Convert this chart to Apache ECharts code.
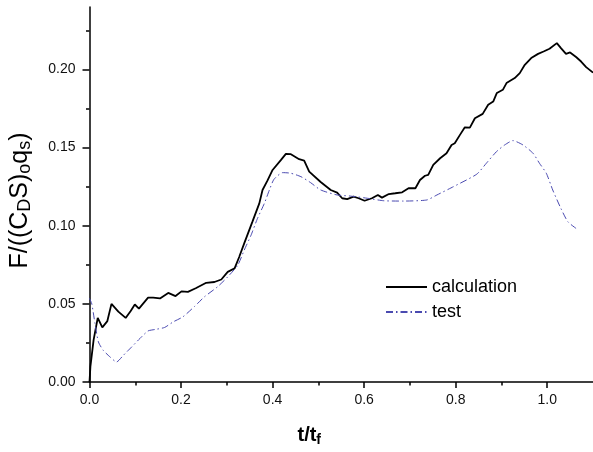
<!DOCTYPE html>
<html>
<head>
<meta charset="utf-8">
<script src="https://cdn.jsdelivr.net/npm/echarts@6/dist/echarts.min.js"></script>
<style>html,body{margin:0;padding:0;background:#fff}#c{width:593px;height:452px}</style>
</head>
<body>
<div id="c"></div>
<script>
var calcT = [0, 0.002, 0.009, 0.018, 0.028, 0.039, 0.048, 0.063, 0.079, 0.090, 0.099, 0.108, 0.128, 0.139, 0.154, 0.172, 0.188, 0.201, 0.215, 0.232, 0.255, 0.273, 0.288, 0.302, 0.317, 0.327, 0.338, 0.356, 0.371, 0.378, 0.389, 0.400, 0.418, 0.429, 0.440, 0.458, 0.469, 0.480, 0.505, 0.527, 0.541, 0.552, 0.563, 0.577, 0.588, 0.601, 0.617, 0.630, 0.639, 0.654, 0.668, 0.683, 0.697, 0.712, 0.722, 0.733, 0.740, 0.751, 0.766, 0.780, 0.791, 0.798, 0.809, 0.820, 0.831, 0.842, 0.859, 0.871, 0.882, 0.890, 0.903, 0.911, 0.929, 0.940, 0.951, 0.965, 0.980, 0.992, 1.005, 1.021, 1.030, 1.041, 1.050, 1.063, 1.074, 1.085, 1.100];
var calcV = [0.000, 0.010, 0.027, 0.041, 0.035, 0.039, 0.050, 0.045, 0.041, 0.0455, 0.0496, 0.047, 0.054, 0.054, 0.0535, 0.057, 0.055, 0.058, 0.0577, 0.060, 0.0635, 0.064, 0.0656, 0.0705, 0.0727, 0.080, 0.0887, 0.1026, 0.1143, 0.1229, 0.129, 0.1357, 0.142, 0.146, 0.1458, 0.1426, 0.1417, 0.1346, 0.128, 0.1229, 0.1212, 0.1176, 0.1171, 0.1186, 0.1176, 0.116, 0.1176, 0.1197, 0.118, 0.1203, 0.1208, 0.1214, 0.124, 0.124, 0.1293, 0.132, 0.1325, 0.139, 0.1432, 0.1464, 0.1517, 0.1528, 0.158, 0.163, 0.1628, 0.1688, 0.1716, 0.1774, 0.1795, 0.185, 0.187, 0.1913, 0.1945, 0.1977, 0.203, 0.2073, 0.21, 0.2115, 0.2133, 0.2169, 0.2137, 0.21, 0.2109, 0.208, 0.2051, 0.2015, 0.198];
var testT = [0, 0.005, 0.012, 0.0195, 0.030, 0.045, 0.059, 0.074, 0.092, 0.110, 0.128, 0.143, 0.164, 0.183, 0.204, 0.230, 0.251, 0.280, 0.302, 0.324, 0.338, 0.353, 0.367, 0.382, 0.393, 0.403, 0.422, 0.440, 0.462, 0.483, 0.505, 0.541, 0.570, 0.607, 0.643, 0.686, 0.737, 0.759, 0.795, 0.846, 0.867, 0.889, 0.907, 0.925, 0.947, 0.969, 0.983, 0.998, 1.012, 1.030, 1.045, 1.063];
var testV = [0.0535, 0.050, 0.0374, 0.0256, 0.0203, 0.016, 0.0128, 0.0171, 0.0224, 0.0278, 0.0327, 0.0336, 0.0349, 0.0385, 0.0417, 0.0485, 0.0545, 0.061, 0.0673, 0.0748, 0.0844, 0.094, 0.1047, 0.1143, 0.1229, 0.1297, 0.134, 0.1336, 0.1314, 0.1276, 0.1229, 0.1197, 0.119, 0.1176, 0.116, 0.1158, 0.1165, 0.1197, 0.125, 0.133, 0.140, 0.1474, 0.1517, 0.1545, 0.1517, 0.1464, 0.140, 0.1336, 0.1229, 0.111, 0.1026, 0.0983];
var xMajorTicks = [0, 0.2, 0.4, 0.6, 0.8, 1.0];
var xMinorTicks = [0.1, 0.3, 0.5, 0.7, 0.9];
var yMajorTicks = [0, 0.05, 0.10, 0.15, 0.20];
var yMinorTicks = [0.025, 0.075, 0.125, 0.175, 0.225];
var seriesNames = ['calculation', 'test'];

function zip(a, b) { return a.map(function (t, i) { return [t, b[i]]; }); }

var chart = echarts.init(document.getElementById('c'), null, {renderer: 'canvas'});
var font = 'Arial, "Liberation Sans", sans-serif';
var axisLine = {show: true, lineStyle: {color: '#000', width: 1.5}};
chart.setOption({
  animation: false,
  backgroundColor: '#fff',
  grid: {left: 88, top: 7, width: 506, height: 375, containLabel: false},
  legend: {
    orient: 'vertical', left: 380, top: 273, itemWidth: 41, itemHeight: 14, itemGap: 7,
    itemStyle: {opacity: 0},
    textStyle: {fontFamily: font, fontSize: 18, color: '#000'},
    data: seriesNames
  },
  xAxis: [{
    type: 'value', min: 0, max: 1.1, interval: 0.2,
    axisLine: axisLine,
    axisTick: {show: true, inside: false, length: 6, customValues: xMajorTicks, lineStyle: {color: '#000', width: 1.5}},
    axisLabel: {customValues: xMajorTicks, margin: 11, fontFamily: font, fontSize: 14, color: '#111',
      formatter: function (v) { return v.toFixed(1); }},
    splitLine: {show: false},
    name: '{b|t/t}{s|f}', nameLocation: 'middle', nameGap: 41,
    nameTextStyle: {padding: [0, 64, 0, 0], rich: {
      b: {fontFamily: font, fontSize: 20, fontWeight: 'bold', color: '#000'},
      s: {fontFamily: font, fontSize: 14, fontWeight: 'bold', color: '#000', padding: [10, 0, 0, 0]}
    }}
  }, {
    type: 'value', min: 0, max: 1.1, position: 'bottom',
    axisLine: {show: false},
    axisTick: {show: true, length: 3.5, customValues: xMinorTicks, lineStyle: {color: '#000', width: 1.5}},
    axisLabel: {show: false}, splitLine: {show: false}
  }],
  yAxis: [{
    type: 'value', min: 0, max: 0.24, interval: 0.05,
    axisLine: axisLine,
    axisTick: {show: true, inside: false, length: 7, customValues: yMajorTicks, lineStyle: {color: '#000', width: 1.5}},
    axisLabel: {customValues: yMajorTicks, margin: 14, fontFamily: font, fontSize: 14, color: '#111',
      formatter: function (v) { return v.toFixed(2); }},
    splitLine: {show: false},
    name: '{b|F/((C}{s|D}{b|S)}{s|o}{b|q}{s|s}{b|)}', nameLocation: 'middle', nameRotate: 90, nameGap: 55,
    nameTextStyle: {padding: [0, 12, 0, 0], rich: {
      b: {fontFamily: font, fontSize: 25, color: '#000'},
      s: {fontFamily: font, fontSize: 18, color: '#000', padding: [10, 0, 0, 0]}
    }}
  }, {
    type: 'value', min: 0, max: 0.24, position: 'left',
    axisLine: {show: false},
    axisTick: {show: true, length: 3.5, customValues: yMinorTicks, lineStyle: {color: '#000', width: 1.5}},
    axisLabel: {show: false}, splitLine: {show: false}
  }],
  series: [{
    name: seriesNames[0], type: 'line', xAxisIndex: 0, yAxisIndex: 0,
    data: zip(calcT, calcV), showSymbol: false, symbol: 'none',
    lineStyle: {color: '#000', width: 1.8}, itemStyle: {color: '#000'}
  }, {
    name: seriesNames[1], type: 'line', xAxisIndex: 0, yAxisIndex: 0,
    data: zip(testT, testV), showSymbol: false, symbol: 'none', smooth: 0.2,
    lineStyle: {color: '#4a4ab0', width: 1, type: [7, 3, 1.5, 3]}, itemStyle: {color: '#4a4ab0'}
  }]
});
</script>
</body>
</html>
